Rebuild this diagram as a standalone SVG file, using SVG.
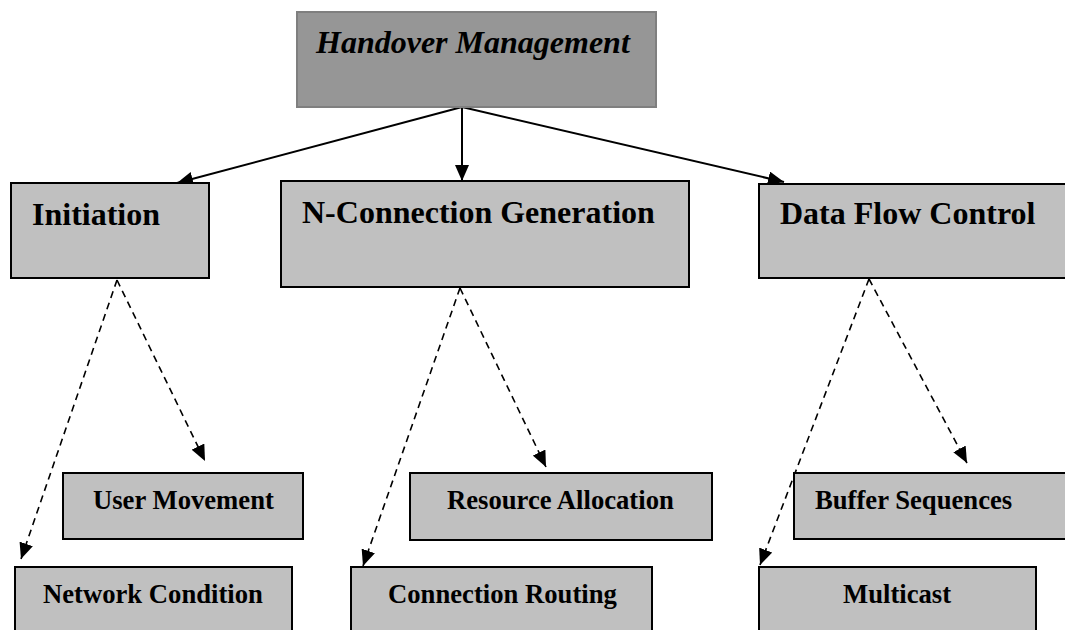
<svg xmlns="http://www.w3.org/2000/svg" width="1065" height="630" viewBox="0 0 1065 630">
<style>
.box{fill:#c0c0c0;stroke:#000;stroke-width:2}
.top{fill:#969696;stroke:#7f7f7f;stroke-width:2}
.t1{font-family:"Liberation Serif","Times New Roman",serif;font-weight:bold;font-size:32px;fill:#000}
.t2{font-family:"Liberation Serif","Times New Roman",serif;font-weight:bold;font-size:26.67px;fill:#000}
.solid{stroke:#000;stroke-width:2;fill:none}
.dash{stroke:#000;stroke-width:1.6;fill:none;stroke-dasharray:7 5}
</style>
<defs>
<marker id="ah" markerUnits="userSpaceOnUse" markerWidth="16" markerHeight="14" viewBox="0 0 16 14" refX="16" refY="7" orient="auto">
<path d="M0,0 L16,7 L0,14 Z" fill="#000"/>
</marker>
</defs>
<rect width="1065" height="630" fill="#fff"/>
<g id="connectors">
<line class="solid" x1="462" y1="107" x2="177" y2="183" marker-end="url(#ah)"/>
<line class="solid" x1="462" y1="107" x2="462" y2="181" marker-end="url(#ah)"/>
<line class="solid" x1="462" y1="107" x2="784" y2="182" marker-end="url(#ah)"/>
<line class="dash" x1="117" y1="280" x2="205" y2="461" marker-end="url(#ah)"/>
<line class="dash" x1="117" y1="280" x2="21" y2="559" marker-end="url(#ah)"/>
<line class="dash" x1="460" y1="288" x2="546" y2="467" marker-end="url(#ah)"/>
<line class="dash" x1="460" y1="288" x2="363" y2="566" marker-end="url(#ah)"/>
<line class="dash" x1="869" y1="279" x2="967" y2="463" marker-end="url(#ah)"/>
<line class="dash" x1="869" y1="279" x2="760" y2="565" marker-end="url(#ah)"/>
</g>
<g id="handover">
<rect class="top" x="297" y="12" width="359" height="95"/>
<text class="t1" x="316" y="53" font-style="italic">Handover Management</text>
</g>
<g id="initiation">
<rect class="box" x="11" y="183" width="198" height="95"/>
<text class="t1" x="32" y="225">Initiation</text>
</g>
<g id="nconn">
<rect class="box" x="281" y="181" width="408" height="106"/>
<text class="t1" x="302" y="223">N-Connection Generation</text>
</g>
<g id="dataflow">
<rect class="box" x="759" y="184" width="320" height="94"/>
<text class="t1" x="780" y="224">Data Flow Control</text>
</g>
<g id="usermovement">
<rect class="box" x="63" y="473" width="240" height="66"/>
<text class="t2" x="93" y="509">User Movement</text>
</g>
<g id="networkcondition">
<rect class="box" x="15" y="567" width="277" height="80"/>
<text class="t2" x="43" y="603">Network Condition</text>
</g>
<g id="resourceallocation">
<rect class="box" x="410" y="473" width="302" height="67"/>
<text class="t2" x="447" y="509">Resource Allocation</text>
</g>
<g id="connectionrouting">
<rect class="box" x="351" y="567" width="301" height="80"/>
<text class="t2" x="388" y="603">Connection Routing</text>
</g>
<g id="buffersequences">
<rect class="box" x="794" y="473" width="290" height="66"/>
<text class="t2" x="815" y="509">Buffer Sequences</text>
</g>
<g id="multicast">
<rect class="box" x="759" y="567" width="277" height="80"/>
<text class="t2" x="843" y="603">Multicast</text>
</g>
</svg>
